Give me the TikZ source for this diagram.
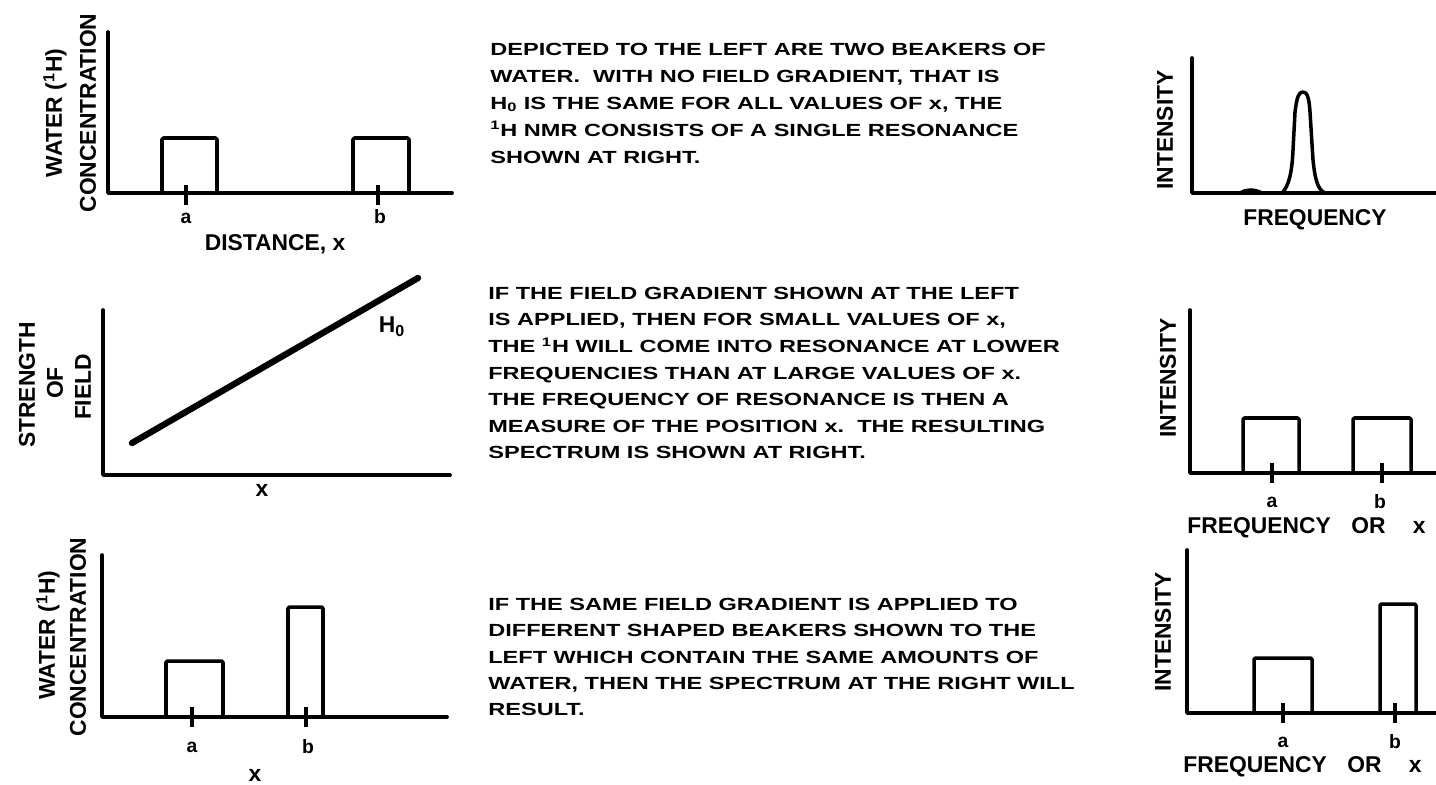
\documentclass[tikz,border=0pt]{standalone}
\usepackage{fontspec}
\setmainfont{Liberation Sans}
\newfontfamily\bodyfam{Liberation Sans}[FakeStretch=1.34]
\tikzset{
  body/.style={font=\bodyfam\bfseries\fontsize{10}{12}\selectfont, anchor=base west, inner sep=0pt},
  lab/.style={font=\bfseries\fontsize{13}{14}\selectfont, inner sep=0pt},
  vlab/.style={lab, rotate=90},
  small/.style={font=\bfseries\fontsize{11}{12}\selectfont, inner sep=0pt},
  axis/.style={line width=2.1pt, line cap=round, line join=round},
  curve/.style={line width=2pt, line join=round, rounded corners=0.8pt},
  tickmark/.style={line width=1.8pt},
  grad/.style={line width=3.6pt, line cap=round}
}
\begin{document}
\begin{tikzpicture}[x=0.02cm, y=-0.02cm]
\useasboundingbox (0,0) rectangle (1436,784);
\fill[white] (0,0) rectangle (1436,784);

% ---------- panel 1 (top left)
\coordinate (p1o) at (108,193);
\coordinate (p1t) at (108,32);
\coordinate (p1r) at (452,193);
\draw[axis] (p1t) -- (p1o) -- (p1r);
\draw[curve] (162,193) -- (162,138) -- (217,138) -- (217,193);
\draw[curve] (353,193) -- (353,138) -- (409,138) -- (409,193);
\draw[tickmark] (186,185) -- (186,205);
\draw[tickmark] (378,185) -- (378,205);
\node[small] (p1a) at (186,218) {a};
\node[small] (p1b) at (380,217) {b};
\node[lab] (p1x) at (275,244) {DISTANCE, x};
\node[vlab] (p1y1) at (55,113) {WATER (\textsuperscript{1}H)};
\node[vlab] (p1y2) at (88,113) {CONCENTRATION};

% ---------- panel 2 (middle left)
\coordinate (p2o) at (103,475);
\coordinate (p2t) at (103,310);
\coordinate (p2r) at (450,475);
\draw[axis] (p2t) -- (p2o) -- (p2r);
\coordinate (g1) at (132,443);
\coordinate (g2) at (418,278);
\draw[grad] (g1) -- (g2);
\node[lab] (p2h) at (392,327) {H\textsubscript{0}};
\node[lab] (p2x) at (262,490) {x};
\node[vlab] (p2y1) at (27,385) {STRENGTH};
\node[vlab] (p2y2) at (55,383) {OF};
\node[vlab] (p2y3) at (83,387) {FIELD};

% ---------- panel 3 (bottom left)
\coordinate (p3o) at (102,717);
\coordinate (p3t) at (102,555);
\coordinate (p3r) at (447,717);
\draw[axis] (p3t) -- (p3o) -- (p3r);
\draw[curve] (166,717) -- (166,661) -- (223,661) -- (223,717);
\draw[curve] (288,717) -- (288,607) -- (323,607) -- (323,717);
\draw[tickmark] (192,707) -- (192,727);
\draw[tickmark] (306,707) -- (306,727);
\node[small] (p3a) at (192,747) {a};
\node[small] (p3b) at (308,747) {b};
\node[lab] (p3x) at (255,775) {x};
\node[vlab] (p3y1) at (48,635) {WATER (\textsuperscript{1}H)};
\node[vlab] (p3y2) at (78,637) {CONCENTRATION};

% ---------- right panel 1
\coordinate (q1o) at (1192,193);
\coordinate (q1t) at (1192,58);
\coordinate (q1r) at (1436,193);
\draw[axis] (q1t) -- (q1o) -- (q1r);
\draw[line width=2pt, line join=round]
  (1240,193) .. controls (1246,189) and (1254,189) .. (1262,193)
  (1282,193) .. controls (1289,186) and (1292,172) .. (1293,150)
  -- (1295,112) .. controls (1297,96) and (1299,92) .. (1303,92)
  .. controls (1307,92) and (1309,97) .. (1310,112)
  -- (1313,160) .. controls (1315,180) and (1318,190) .. (1325,193);
\node[lab] (q1x) at (1315,220) {FREQUENCY};
\node[vlab] (q1y) at (1165,130) {INTENSITY};

% ---------- right panel 2
\coordinate (q2o) at (1190,473);
\coordinate (q2t) at (1190,310);
\coordinate (q2r) at (1436,473);
\draw[axis] (q2t) -- (q2o) -- (q2r);
\draw[curve] (1243,473) -- (1243,418) -- (1299,418) -- (1299,473);
\draw[curve] (1353,473) -- (1353,418) -- (1411,418) -- (1411,473);
\draw[tickmark] (1272,463) -- (1272,483);
\draw[tickmark] (1382,463) -- (1382,483);
\node[small] (q2a) at (1272,502) {a};
\node[small] (q2b) at (1380,502) {b};
\node[lab, anchor=west] (q2x) at (1187,528) {FREQUENCY\hspace{0.9em}OR\hspace{1.2em}x};
\node[vlab] (q2y) at (1168,378) {INTENSITY};

% ---------- right panel 3
\coordinate (q3o) at (1187,713);
\coordinate (q3t) at (1187,550);
\coordinate (q3r) at (1436,713);
\draw[axis] (q3t) -- (q3o) -- (q3r);
\draw[curve] (1254,713) -- (1254,658) -- (1312,658) -- (1312,713);
\draw[curve] (1380,713) -- (1380,604) -- (1416,604) -- (1416,713);
\draw[tickmark] (1283,703) -- (1283,723);
\draw[tickmark] (1395,703) -- (1395,723);
\node[small] (q3a) at (1283,742) {a};
\node[small] (q3b) at (1395,742) {b};
\node[lab, anchor=west] (q3x) at (1183,767) {FREQUENCY\hspace{0.9em}OR\hspace{1.2em}x};
\node[vlab] (q3y) at (1163,632) {INTENSITY};

% ---------- text blocks
\foreach \t [count=\i] in {
  {DEPICTED TO THE LEFT ARE TWO BEAKERS OF},
  {WATER.\ \ WITH NO FIELD GRADIENT, THAT IS},
  {H\textsubscript{0} IS THE SAME FOR ALL VALUES OF x, THE},
  {\textsuperscript{1}H NMR CONSISTS OF A SINGLE RESONANCE},
  {SHOWN AT RIGHT.}}
  \node[body] (ta\i) at (490,{55.3+27*(\i-1)}) {\t};

\foreach \t [count=\i] in {
  {IF THE FIELD GRADIENT SHOWN AT THE LEFT},
  {IS APPLIED, THEN FOR SMALL VALUES OF x,},
  {THE \textsuperscript{1}H WILL COME INTO RESONANCE AT LOWER},
  {FREQUENCIES THAN AT LARGE VALUES OF x.},
  {THE FREQUENCY OF RESONANCE IS THEN A},
  {MEASURE OF THE POSITION x.\ \ THE RESULTING},
  {SPECTRUM IS SHOWN AT RIGHT.}}
  \node[body] (tb\i) at (488,{299.3+26.6*(\i-1)}) {\t};

\foreach \t [count=\i] in {
  {IF THE SAME FIELD GRADIENT IS APPLIED TO},
  {DIFFERENT SHAPED BEAKERS SHOWN TO THE},
  {LEFT WHICH CONTAIN THE SAME AMOUNTS OF},
  {WATER, THEN THE SPECTRUM AT THE RIGHT WILL},
  {RESULT.}}
  \node[body] (tc\i) at (488,{610.3+26.4*(\i-1)}) {\t};
\end{tikzpicture}
\end{document}
